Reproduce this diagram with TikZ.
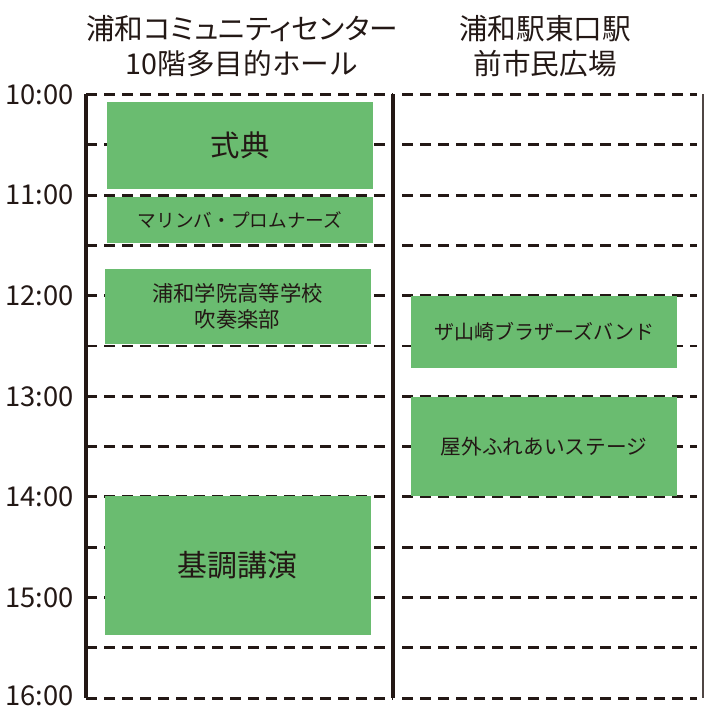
\documentclass[tikz,border=0pt]{standalone}
\usepackage{fontspec}
\setmainfont{Noto Sans CJK JP}
\newfontfamily\paltfont[RawFeature=+palt]{Noto Sans CJK JP}
\definecolor{eventgreen}{RGB}{106,188,112}
\definecolor{inkblack}{RGB}{35,24,21}
\usetikzlibrary{positioning}
\tikzset{
x=0.75pt, y=-0.75pt, % one unit is one pixel, y runs downwards
every node/.style={text=inkblack}, % sets the colour of all texts
axis/.style={line width=2.5pt, draw=inkblack}, % the solid column borders
slot/.style={line width=2.2pt, draw=inkblack, dash pattern=on 8.25pt off 5.25pt}, % the half-hour grid lines
timelbl/.style={font=\fontsize{20.5}{24}\selectfont, inner sep=0pt}, % the hour labels on the left
header/.style={font=\fontsize{21.5}{26}\selectfont, align=center}, % the venue names
}
\tikzset{
  event/.style={fill=eventgreen, inner sep=0pt, minimum width=199.5pt, align=center}
}

\begin{document}
\begin{tikzpicture}
      \useasboundingbox (0,0) rectangle (705,709);

      \coordinate (t10) at (86,94.5);
      \coordinate (t11) at (86,195.1);
      \coordinate (t12) at (86,295.7);
      \coordinate (t13) at (86,396.3);
      \coordinate (t14) at (86,496.9);
      \coordinate (t15) at (86,597.5);
      \coordinate (t16) at (86,698.1);

      \node[header] (hall) at (242,46) {{\paltfont 浦和コミュニティセンター}\\10階多目的ホール};
      \node[header] (plaza) at (545,46) {浦和駅東口駅\\前市民広場};

      \node[timelbl, left=9pt of t10] (l10) {10:00};
      \node[timelbl, left=9pt of t11] (l11) {11:00};
      \node[timelbl, left=9pt of t12] (l12) {12:00};
      \node[timelbl, left=9pt of t13] (l13) {13:00};
      \node[timelbl, left=9pt of t14] (l14) {14:00};
      \node[timelbl, left=9pt of t15] (l15) {15:00};
      \node[timelbl, left=9pt of t16, yshift=2pt] (l16) {16:00};

      \draw[slot] (86,94.5) -- (393,94.5) (402,94.5) -- (697,94.5)
      (86,144.8) -- (393,144.8) (402,144.8) -- (697,144.8)
      (86,195.1) -- (393,195.1) (402,195.1) -- (697,195.1)
      (86,245.4) -- (393,245.4) (402,245.4) -- (697,245.4)
      (86,295.7) -- (393,295.7) (402,295.7) -- (697,295.7)
      (86,346.0) -- (393,346.0) (402,346.0) -- (697,346.0)
      (86,396.3) -- (393,396.3) (402,396.3) -- (697,396.3)
      (86,446.6) -- (393,446.6) (402,446.6) -- (697,446.6)
      (86,496.9) -- (393,496.9) (402,496.9) -- (697,496.9)
      (86,547.2) -- (393,547.2) (402,547.2) -- (697,547.2)
      (86,597.5) -- (393,597.5) (402,597.5) -- (697,597.5)
      (86,647.8) -- (393,647.8) (402,647.8) -- (697,647.8)
      (86,698.1) -- (393,698.1) (402,698.1) -- (697,698.1);

      \draw[axis] (t10) -- (t16);
      \draw[axis] (393,94.5) -- (393,698.1);
      \draw[line width=0.9pt, draw=inkblack!80] (703,94.5) -- (703,698.1);

      \node[event, minimum height=65.25pt, font=\fontsize{22}{26}\selectfont] (ceremony) at (240,145.5) {式典};
      \node[event, minimum height=34.5pt, font=\fontsize{14}{17}\selectfont] (marimba) at (240,220) {マリンバ・プロムナーズ};
      \node[event, minimum height=56.25pt, font=\fontsize{16}{19}\selectfont] (brassband) at (237.5,306.5) {浦和学院高等学校\\吹奏楽部};
      \node[event, minimum height=104.25pt, font=\fontsize{22.5}{26}\selectfont] (keynote) at (237.5,565.5) {基調講演};
      \node[event, minimum height=54pt, font=\fontsize{15}{18}\selectfont] (brothers) at (544,332) {ザ山崎ブラザーズバンド};
      \node[event, minimum height=74.25pt, font=\fontsize{15.5}{18}\selectfont] (stage) at (544,446.5) {屋外ふれあいステージ};
    \end{tikzpicture}
\end{document}
